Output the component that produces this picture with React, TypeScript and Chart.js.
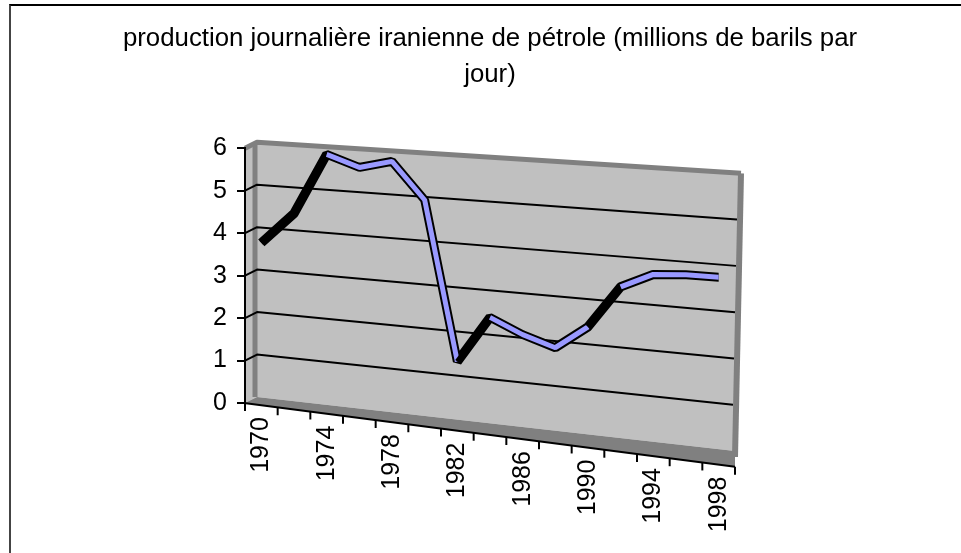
import React, { useEffect, useRef } from 'react';
import { Chart, registerables } from 'chart.js';

Chart.register(...registerables);

// ---- data ----
const titleLines = [
  'production journalière iranienne de pétrole (millions de barils par',
  'jour)',
];
const years = [
  '1970', '1972', '1974', '1976', '1978', '1980', '1982', '1984',
  '1986', '1988', '1990', '1992', '1994', '1996', '1998',
];
const production = [3.8, 4.55, 6.0, 5.75, 5.95, 5.1, 1.35, 2.45, 2.1, 1.85, 2.4, 3.4, 3.75, 3.8, 3.8];
const yMin = 0;
const yMax = 6;
const yStep = 1;

// ---- style ----
const FONT = '"Liberation Sans", Arial, sans-serif';
const WALL = '#C0C0C0';
const EDGE = '#808080';
const RIBBON = '#9999FF';
const K_DATA = 0.075; // perspective slope of the ribbon plane
const K_FRONT = 0.13; // perspective slope of the front edge
const TICK_LEN = 8;

const wallsPlugin = {
  id: 'walls3d',
  beforeDraw(chart: any) {
    const { ctx, chartArea } = chart;
    const { left: L, right: R, top: T, bottom: B } = chartArea;
    const ys = chart.scales.y;
    const xs = chart.scales.x;
    const bl = L + 12;
    const br = R + 6;
    const yl = (v: number) => ys.getPixelForValue(v) - 6;
    const yr = (v: number) => B + 48 - 1.09 * (B - ys.getPixelForValue(v));
    const front = (x: number) => B + K_FRONT * (x - L);
    const top = ys.max;
    const bot = ys.min;
    const poly = (pts: number[][]) => {
      ctx.beginPath();
      ctx.moveTo(pts[0][0], pts[0][1]);
      for (let i = 1; i < pts.length; i++) ctx.lineTo(pts[i][0], pts[i][1]);
      ctx.closePath();
      ctx.fill();
    };
    ctx.save();
    ctx.fillStyle = WALL;
    poly([[L, B], [L, T], [bl, yl(top)], [bl, yl(bot)]]);
    poly([[bl, yl(top)], [br, yr(top)], [br - 6, yr(bot)], [bl, yl(bot)]]);
    ctx.fillStyle = EDGE;
    poly([[L, B], [R, front(R)], [br - 6, yr(bot)], [bl, yl(bot)]]);
    // wall edges
    ctx.strokeStyle = EDGE;
    ctx.lineJoin = 'round';
    ctx.lineWidth = 5;
    ctx.beginPath();
    ctx.moveTo(bl - 2, yl(top));
    ctx.lineTo(bl - 2, yl(bot));
    ctx.stroke();
    ctx.beginPath();
    ctx.moveTo(L, T);
    ctx.lineTo(bl, yl(top));
    ctx.lineTo(br, yr(top));
    ctx.stroke();
    ctx.lineWidth = 6;
    ctx.beginPath();
    ctx.moveTo(br, yr(top));
    ctx.lineTo(br - 6, yr(bot) + 6);
    ctx.stroke();
    // gridlines on the walls
    ctx.strokeStyle = '#000';
    ctx.lineWidth = 2;
    ys.ticks.forEach((t: any) => {
      const v = t.value;
      if (v <= bot || v >= top) return;
      const f = (v - bot) / (top - bot);
      ctx.beginPath();
      ctx.moveTo(L, ys.getPixelForValue(v));
      ctx.lineTo(bl, yl(v));
      ctx.lineTo(br - 6 + 6 * f - 3, yr(v));
      ctx.stroke();
    });
    // sloped front edge (category axis line) and its tick marks
    ctx.beginPath();
    ctx.moveTo(L - 1, front(L));
    ctx.lineTo(R, front(R));
    ctx.stroke();
    const n = xs.ticks.length;
    const half = (xs.getPixelForValue(1) - xs.getPixelForValue(0)) / 2;
    for (let i = 0; i <= n; i++) {
      const x = i < n ? xs.getPixelForValue(i) - half : xs.getPixelForValue(n - 1) + half;
      ctx.beginPath();
      ctx.moveTo(x, front(x));
      ctx.lineTo(x, front(x) + TICK_LEN);
      ctx.stroke();
    }
    ctx.restore();
    // move category labels down along the sloped front edge
    const items = xs.getLabelItems(chartArea);
    items.forEach((it: any) => {
      if (it.__shifted) return;
      const tr = it.options.translation;
      tr[1] += K_FRONT * (tr[0] - L);
      it.__shifted = true;
    });
  },
  beforeDatasetsDraw(chart: any) {
    const { ctx, chartArea } = chart;
    ctx.save();
    ctx.transform(1, K_DATA, 0, 1, 0, -K_DATA * chartArea.left);
  },
  afterDatasetsDraw(chart: any) {
    chart.ctx.restore();
  },
};

export default function App() {
  const ref = useRef<HTMLCanvasElement | null>(null);
  useEffect(() => {
    const canvas = ref.current;
    if (!canvas) return;
    const font = { family: FONT, size: 25, weight: 'normal' as const };
    const chart = new Chart(canvas, {
      type: 'line',
      data: {
        labels: years,
        datasets: [
          {
            label: 'production',
            data: production,
            borderColor: RIBBON,
            borderWidth: 5,
            order: 0,
            pointRadius: 0,
            tension: 0,
            clip: false,
            borderJoinStyle: 'bevel',
            segment: {
              borderColor: (c: any) => (c.p1.parsed.y - c.p0.parsed.y > 0.6 ? '#000' : RIBBON),
            },
          } as any,
          {
            label: 'edge',
            data: production,
            borderColor: '#000',
            borderWidth: 9,
            order: 1,
            pointRadius: 0,
            tension: 0,
            clip: false,
            borderJoinStyle: 'bevel',
          } as any,
        ],
      },
      options: {
        responsive: false,
        animation: false,
        devicePixelRatio: 1,
        events: [],
        layout: { padding: { left: 19, right: 0, top: 0, bottom: 0 } },
        plugins: {
          legend: { display: false },
          tooltip: { enabled: false },
          title: {
            display: true,
            text: titleLines,
            color: '#000',
            font: { family: FONT, size: 25.8, weight: 'normal', lineHeight: 1.4 },
            padding: { top: 21, bottom: 55 },
          },
        },
        scales: {
          x: {
            type: 'category',
            offset: true,
            grid: {
              offset: true,
              drawOnChartArea: false,
              drawTicks: true,
              tickLength: TICK_LEN,
              color: 'rgba(0,0,0,0)',
            },
            border: { display: false },
            ticks: {
              autoSkip: false,
              minRotation: 90,
              maxRotation: 90,
              padding: 6,
              color: '#000',
              font,
              callback: (_v: any, i: number) => (i % 2 === 0 ? years[i] : ''),
            },
            afterFit: (s: any) => {
              s.height = 150;
            },
          },
          y: {
            min: yMin,
            max: yMax,
            ticks: { stepSize: yStep, padding: 10, color: '#000', font },
            grid: {
              drawOnChartArea: false,
              drawTicks: true,
              tickLength: TICK_LEN,
              color: '#000',
              lineWidth: 2,
            },
            border: { color: '#000', width: 2 },
            afterFit: (s: any) => {
              s.width = 226;
            },
          },
          yRight: {
            position: 'right',
            display: true,
            grid: { display: false },
            ticks: { display: false },
            border: { display: false },
            afterFit: (s: any) => {
              s.width = 226;
            },
          },
        },
      } as any,
      plugins: [wallsPlugin],
    });
    return () => chart.destroy();
  }, []);

  return (
    <div style={{ position: 'fixed', left: 0, top: 0, width: 961, height: 553, overflow: 'hidden', background: '#fff' }}>
      <div
        style={{
          position: 'absolute',
          left: 9,
          top: 4,
          width: 1000,
          height: 600,
          borderTop: '2px solid #000',
          borderLeft: '2px solid #444',
        }}
      />
      <canvas ref={ref} width={961} height={553} style={{ position: 'absolute', left: 0, top: 0, display: 'block' }} />
    </div>
  );
}
